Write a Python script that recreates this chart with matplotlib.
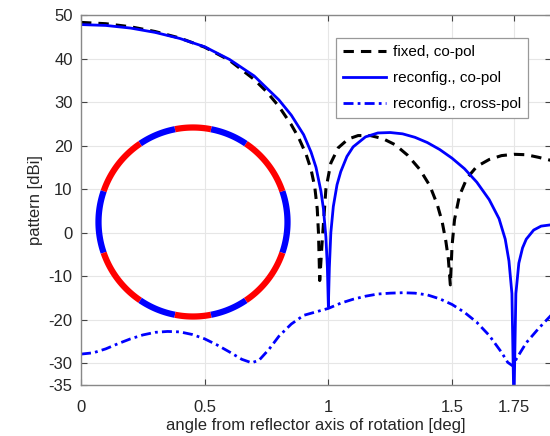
import matplotlib
matplotlib.use('Agg')
import matplotlib.pyplot as plt
import numpy as np

plt.rcParams['font.family'] = ['Liberation Sans', 'DejaVu Sans']
plt.rcParams['axes.unicode_minus'] = False

# fixed reflector, co-pol (black dashed)
x_fixed = [0, 0.1, 0.2, 0.3, 0.4, 0.5, 0.6, 0.7, 0.75, 0.8, 0.85, 0.88, 0.91, 0.93,
           0.945, 0.955, 0.96, 0.965, 0.975, 0.99, 1.01, 1.04, 1.08, 1.12, 1.17, 1.22,
           1.27, 1.32, 1.37, 1.41, 1.44, 1.46, 1.475, 1.485, 1.493, 1.5, 1.51, 1.53,
           1.56, 1.6, 1.65, 1.7, 1.75, 1.8, 1.85, 1.9]
y_fixed = [48.3, 48.0, 47.3, 46.2, 44.7, 42.6, 39.6, 35.2, 32.4, 29.0, 24.8, 21.8, 18.0, 14.5,
           10.5, 5.5, 0, -11, -2, 10, 16, 19.5, 21.5, 22.3, 22.3, 21.6,
           20.2, 17.8, 14.5, 10.8, 6.5, 2.5, -2, -6, -12, -3, 3, 8.5,
           12.5, 15.2, 16.8, 17.7, 18.0, 17.9, 17.3, 16.6]

# reconfigurable reflector, co-pol (blue solid)
x_reco = [0, 0.1, 0.2, 0.3, 0.4, 0.5, 0.6, 0.7, 0.8, 0.85, 0.9, 0.93, 0.95, 0.97, 0.98,
          0.99, 0.996, 1.0, 1.004, 1.01, 1.02, 1.035, 1.05, 1.075, 1.1, 1.15, 1.2, 1.25,
          1.3, 1.35, 1.4, 1.45, 1.5, 1.55, 1.6, 1.65, 1.69, 1.715, 1.73, 1.742, 1.75,
          1.758, 1.77, 1.785, 1.8, 1.83, 1.86, 1.9]
y_reco = [47.8, 47.6, 47.0, 46.0, 44.6, 42.7, 39.8, 36.0, 30.5, 27.0, 22.5, 18.5, 15.0, 9.5, 5.5,
          -1, -8, -17, -8, 0, 6, 11, 14, 17.5, 19.7, 22.0, 22.9, 23.0,
          22.7, 21.9, 20.7, 19.1, 17.1, 14.7, 11.6, 7.6, 3.2, -1.5, -6.5, -14, -40,
          -14, -7, -3.5, -1.5, 0.6, 1.5, 1.8]

# reconfigurable reflector, cross-pol (blue dash-dot)
x_cross = [0, 0.05, 0.1, 0.15, 0.2, 0.25, 0.3, 0.35, 0.4, 0.45, 0.5, 0.55, 0.6, 0.65, 0.69,
           0.72, 0.76, 0.8, 0.85, 0.9, 0.95, 1.0, 1.05, 1.1, 1.15, 1.2, 1.25, 1.3, 1.35,
           1.4, 1.45, 1.5, 1.55, 1.6, 1.65, 1.7, 1.725, 1.745, 1.76, 1.8, 1.85, 1.9]
y_cross = [-27.9, -27.6, -26.7, -25.5, -24.4, -23.5, -22.9, -22.7, -22.8, -23.4, -24.4, -25.8,
           -27.4, -29.1, -29.9, -29.3, -26.8, -23.8, -21.0, -19.0, -18.2, -17.4, -16.2, -15.3,
           -14.6, -14.1, -13.9, -13.8, -13.9, -14.3, -15.2, -16.5, -18.3, -20.6, -23.6, -27.5,
           -29.8, -30.6, -29.0, -25.3, -22.0, -19.0]

# ring inset: segment edges in degrees and their colours
ring_edges = [-19, 19, 56, 79, 101, 124, 161, 199, 236, 259, 281, 304, 341]
ring_colors = ['blue', 'red', 'blue', 'red', 'blue', 'red', 'blue', 'red', 'blue', 'red', 'blue', 'red']

x_ticks = [0, 0.5, 1, 1.5, 1.75]
x_ticklabels = ['0', '0.5', '1', '1.5', '1.75']
y_ticks = [-35, -30, -20, -10, 0, 10, 20, 30, 40, 50]

fig = plt.figure(figsize=(5.5, 4.36), dpi=100)
ax = fig.add_axes([81 / 550, 51 / 436, 470 / 550, 370 / 436])

ax.plot(x_fixed, y_fixed, color='black', ls=(0, (3.4, 2.3)), lw=2.2, label='fixed, co-pol')
ax.plot(x_reco, y_reco, color='#0000ff', ls='-', lw=2.0, label='reconfig., co-pol')
ax.plot(x_cross, y_cross, color='#0000ff', ls=(0, (3.6, 1.5, 1.0, 1.5)), lw=2.0,
        label='reconfig., cross-pol')

ax.set_xlim(0, 1.9)
ax.set_ylim(-35, 50)
ax.set_xticks(x_ticks)
ax.set_xticklabels(x_ticklabels)
ax.set_yticks(y_ticks)
ax.grid(True, color='#e6e6e6', lw=0.8)
ax.set_axisbelow(True)
ax.tick_params(direction='in', length=4, top=True, right=True, labelsize=12,
               color='#444444', labelcolor='#262626')
ax.tick_params(axis='x', pad=11)
ax.tick_params(axis='y', pad=6)
for s in ax.spines.values():
    s.set_color('#888888')
    s.set_linewidth(1.0)
ax.set_xlabel('angle from reflector axis of rotation [deg]', fontsize=12, color='#262626', labelpad=2)
ax.set_ylabel('pattern [dBi]', fontsize=12, color='#262626', labelpad=4)

leg = ax.legend(loc='upper right', bbox_to_anchor=(528 / 550, 398 / 436), bbox_transform=fig.transFigure,
                borderaxespad=0, fontsize=11, fancybox=False, framealpha=1, edgecolor='#999999',
                handlelength=2.8, borderpad=0.45, labelspacing=0.8, handletextpad=0.45)
leg.get_frame().set_linewidth(0.9)

# ring drawn in its own square axes so it stays round
rax = fig.add_axes([(193 - 100) / 550, (436 - 222 - 100) / 436, 200 / 550, 200 / 436])
rax.set_xlim(-1, 1)
rax.set_ylim(-1, 1)
rax.set_aspect('equal')
rax.axis('off')
for i, c in enumerate(ring_colors):
    t = np.radians(np.linspace(ring_edges[i], ring_edges[i + 1], 40))
    rax.plot(0.945 * np.cos(t), 0.945 * np.sin(t), color=c, lw=4.5, solid_capstyle='butt')

fig.savefig('out.png', dpi=100)
